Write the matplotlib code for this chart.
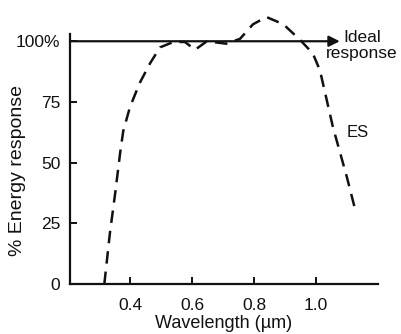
import numpy as np
import matplotlib
matplotlib.use("Agg")
import matplotlib.pyplot as plt

plt.rcParams['font.family'] = ['Liberation Sans', 'DejaVu Sans']

# ES curve
wavelength = [0.317, 0.335, 0.352, 0.368, 0.378, 0.40, 0.432, 0.465, 0.497, 0.54,
              0.577, 0.61, 0.648, 0.71, 0.755, 0.797, 0.84, 0.895, 0.95, 0.99,
              1.013, 1.055, 1.10, 1.13]
response = [0, 21, 37.4, 54, 63, 73, 83, 91, 97.5, 99.7,
            99.7, 96.5, 100, 99, 101, 107, 110, 107, 100.4, 95,
            88, 64.6, 44, 29]
x_ticks = [0.4, 0.6, 0.8, 1.0]
x_labels = ['0.4', '0.6', '0.8', '1.0']
y_ticks = [0, 25, 50, 75, 100]
y_labels = ['0', '25', '50', '75', '100%']
ideal_level = 100
ideal_end = 1.077

ink = '#111111'
fig = plt.figure(figsize=(4.02, 3.34), dpi=100)
ax = fig.add_axes([0.174, 0.1497, 0.766, 0.814])

ax.plot(wavelength, response, color=ink, lw=1.8, linestyle=(0, (5, 3.2)),
        dash_capstyle='butt', clip_on=False)

ax.annotate('', xy=(ideal_end, ideal_level), xytext=(0.206, ideal_level),
            arrowprops=dict(arrowstyle='-|>', color=ink, lw=1.6,
                            mutation_scale=16, shrinkA=0, shrinkB=0))
ax.text(1.148, 104.5, 'Ideal\nresponse', ha='center', va='top',
        fontsize=12.5, color=ink, linespacing=1.08)
ax.text(1.1, 62.5, 'ES', ha='left', va='center', fontsize=12, color=ink)

ax.set_xlim(0.206, 1.2)
ax.set_ylim(0, 112)
ax.spines['top'].set_visible(False)
ax.spines['right'].set_visible(False)
ax.spines['left'].set_bounds(0, 103)
for s in ['left', 'bottom']:
    ax.spines[s].set_linewidth(1.6)
    ax.spines[s].set_color(ink)

ax.set_xticks(x_ticks)
ax.set_xticklabels(x_labels)
ax.set_yticks(y_ticks)
ax.set_yticklabels(y_labels)
ax.tick_params(axis='both', direction='in', length=5, width=1.4, color=ink,
               labelsize=12.5, labelcolor=ink)
ax.tick_params(axis='y', pad=7)
ax.tick_params(axis='x', pad=10)

ax.set_xlabel('Wavelength (\u00b5m)', fontsize=13, color=ink)
ax.set_ylabel('% Energy response', fontsize=14, color=ink)
ax.xaxis.set_label_coords(0.5, -0.115)
ax.yaxis.set_label_coords(-0.144, 0.419)

fig.savefig('out.png', dpi=100)
